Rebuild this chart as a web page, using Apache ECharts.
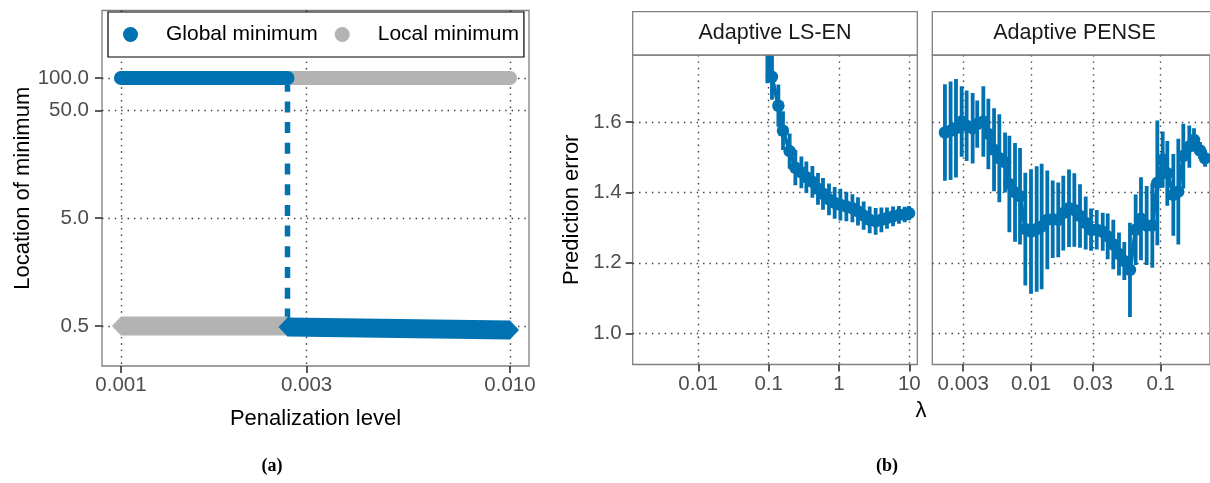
<!DOCTYPE html>
<html>
<head>
<meta charset="utf-8">
<script src="https://cdn.jsdelivr.net/npm/echarts@6/dist/echarts.min.js"></script>
<style>
  html, body { margin: 0; padding: 0; background: #fff; }
  #chart { width: 1210px; height: 483px; }
</style>
</head>
<body>
<div id="chart"></div>
<script>
// ---------- (a) location of the minimum along the penalization path ----------
const penaltyRange = [0.001, 0.01];
const switchPenalty = 0.00268;
const upperLocation = 100;
const globalLowerLocation = [0.49, 0.46];   // from the switch to the largest penalty
const localLowerLocation = [0.5, 0.5];      // from the smallest penalty to the switch
const penaltyTicks = [0.001, 0.003, 0.01];
const penaltyTickLabels = ['0.001', '0.003', '0.010'];
const locationTicks = [0.5, 5, 50, 100];
const locationTickLabels = ['0.5', '5.0', '50.0', '100.0'];

// ---------- (b) cross-validated prediction error ----------
const lsenLambda = [0.0959, 0.1115, 0.1375, 0.160, 0.199, 0.240, 0.292, 0.344, 0.419, 0.503,
  0.593, 0.721, 0.869, 1.047, 1.274, 1.551, 1.863, 2.244, 2.733, 3.326, 4.008, 4.815, 5.864,
  7.129, 8.593, 9.89];
const lsenError = [1.81, 1.728, 1.646, 1.575, 1.517, 1.47, 1.457, 1.443, 1.43, 1.41,
  1.396, 1.38, 1.37, 1.365, 1.36, 1.355, 1.346, 1.334, 1.322, 1.318, 1.322, 1.327, 1.332,
  1.336, 1.337, 1.341];
const lsenSe = [0.10, 0.065, 0.06, 0.055, 0.05, 0.05, 0.045, 0.045, 0.045, 0.045,
  0.045, 0.045, 0.045, 0.045, 0.042, 0.04, 0.04, 0.04, 0.038, 0.038, 0.035, 0.03, 0.028,
  0.025, 0.022, 0.02];

const penseLambda = [0.00217, 0.00240, 0.00264, 0.00292, 0.00319, 0.00355, 0.00385, 0.00429,
  0.00469, 0.00519, 0.00570, 0.00631, 0.00681, 0.00753, 0.00823, 0.00904, 0.0100, 0.01106,
  0.01208, 0.01336, 0.01470, 0.01622, 0.01774, 0.01963, 0.02158, 0.02387, 0.02642, 0.02904,
  0.03212, 0.03573, 0.03902, 0.04311, 0.04769, 0.05239, 0.05794, 0.06410, 0.07047, 0.07795,
  0.08616, 0.09418, 0.1036, 0.1124, 0.1251, 0.1367, 0.1494, 0.1662, 0.1806, 0.2009, 0.2197];
const penseError = [1.570, 1.575, 1.582, 1.601, 1.589, 1.582, 1.594, 1.601, 1.566, 1.521,
  1.497, 1.485, 1.424, 1.400, 1.389, 1.296, 1.289, 1.296, 1.303, 1.322, 1.324, 1.322, 1.341,
  1.355, 1.350, 1.333, 1.313, 1.294, 1.294, 1.288, 1.275, 1.252, 1.225, 1.205, 1.180, 1.294,
  1.325, 1.306, 1.306, 1.427, 1.493, 1.454, 1.393, 1.402, 1.503, 1.530, 1.549, 1.519, 1.497];
const penseSe = [0.137, 0.14, 0.14, 0.10, 0.10, 0.10, 0.067, 0.10, 0.10, 0.118, 0.125, 0.085,
  0.137, 0.14, 0.137, 0.16, 0.177, 0.178, 0.178, 0.14, 0.11, 0.106, 0.106, 0.11, 0.104, 0.09,
  0.075, 0.06, 0.056, 0.054, 0.065, 0.07, 0.061, 0.054, 0.134, 0.10, 0.118, 0.112, 0.12, 0.177,
  0.08, 0.092, 0.116, 0.15, 0.092, 0.06, 0.033, 0.024, 0.024];

const lsenTicks = [0.01, 0.1, 1, 10];
const lsenTickLabels = ['0.01', '0.1', '1', '10'];
const penseTicks = [0.003, 0.01, 0.03, 0.1];
const penseTickLabels = ['0.003', '0.01', '0.03', '0.1'];
const errorTicks = [1.0, 1.2, 1.4, 1.6];
const errorTickLabels = ['1.0', '1.2', '1.4', '1.6'];

// ---------- styling ----------
const BLUE = '#0072B2';
const GREY = '#b3b3b3';
const FONT = '"Liberation Sans", Arial, Helvetica, sans-serif';
const BORDER = '#7f7f7f';

function labelFor(ticks, labels) {
  return v => {
    const i = ticks.findIndex(t => Math.abs(Math.log10(t) - Math.log10(v)) < 1e-6);
    return i >= 0 ? labels[i] : '';
  };
}

function axisBase(ticks, labels, extra) {
  return Object.assign({
    axisLine: { show: false },
    axisTick: { show: true, length: 7, customValues: ticks.slice(),
      lineStyle: { color: '#333', width: 1.6 } },
    axisLabel: { show: true, customValues: ticks.slice(), formatter: labelFor(ticks, labels),
      fontFamily: FONT, fontSize: 20.5, color: '#4d4d4d', margin: 9 },
    splitLine: { show: true, lineStyle: { color: '#3a3a3a', width: 1.4, type: [1.4, 5] } }
  }, extra);
}

function errorBars(axisIdx, lam, err, se) {
  return {
    type: 'custom',
    xAxisIndex: axisIdx, yAxisIndex: axisIdx,
    clip: true, z: 2, silent: true,
    data: lam.map((l, i) => [l, err[i] - se[i], err[i] + se[i]]),
    encode: { x: 0, y: [1, 2] },
    renderItem: (params, api) => {
      const lo = api.coord([api.value(0), api.value(1)]);
      const hi = api.coord([api.value(0), api.value(2)]);
      return {
        type: 'line',
        shape: { x1: lo[0], y1: lo[1], x2: hi[0], y2: hi[1] },
        style: { stroke: BLUE, lineWidth: 3.8 }
      };
    }
  };
}

function curve(axisIdx, lam, err) {
  return {
    type: 'line',
    xAxisIndex: axisIdx, yAxisIndex: axisIdx,
    clip: true, z: 3, silent: true,
    data: lam.map((l, i) => [l, err[i]]),
    symbol: 'circle', symbolSize: 12.5, showSymbol: true,
    itemStyle: { color: BLUE },
    lineStyle: { color: BLUE, width: 3.8 }
  };
}

const diamondEnd = { symbol: 'diamond', symbolSize: [18, 19] };
const noEnd = { symbol: 'none' };

const chart = echarts.init(document.getElementById('chart'), null, { renderer: 'canvas' });

chart.setOption({
  animation: false,
  backgroundColor: '#fff',
  textStyle: { fontFamily: FONT },
  grid: [
    { left: 102, top: 10.5, width: 427, height: 355.5, show: true, borderColor: BORDER, borderWidth: 1.3, backgroundColor: 'transparent' },
    { left: 632.7, top: 55, width: 284.6, height: 309.5, show: true, borderColor: BORDER, borderWidth: 1.3, backgroundColor: 'transparent' },
    { left: 932.3, top: 55, width: 280, height: 309.5, show: true, borderColor: BORDER, borderWidth: 1.3, backgroundColor: 'transparent' }
  ],
  xAxis: [
    axisBase(penaltyTicks, penaltyTickLabels, {
      gridIndex: 0, type: 'log', logBase: 10, min: 0.000894, max: 0.01119,
      name: 'Penalization level', nameLocation: 'middle', nameGap: 42,
      nameTextStyle: { fontFamily: FONT, fontSize: 22, color: '#000' }
    }),
    axisBase(lsenTicks, lsenTickLabels, {
      gridIndex: 1, type: 'log', logBase: 10, min: 0.001168, max: 12.99
    }),
    axisBase(penseTicks, penseTickLabels, {
      gridIndex: 2, type: 'log', logBase: 10, min: 0.001734, max: 0.2399
    })
  ],
  yAxis: [
    axisBase(locationTicks, locationTickLabels, {
      gridIndex: 0, type: 'log', logBase: 10, min: 0.2129, max: 422.6,
      name: 'Location of minimum', nameLocation: 'middle', nameGap: 68,
      nameTextStyle: { fontFamily: FONT, fontSize: 22, color: '#000' },
      axisLabel: { show: true, customValues: locationTicks.slice(), formatter: labelFor(locationTicks, locationTickLabels),
        fontFamily: FONT, fontSize: 20.5, color: '#4d4d4d', margin: 13 }
    }),
    axisBase(errorTicks, errorTickLabels, {
      gridIndex: 1, type: 'value', min: 0.9114, max: 1.790,
      name: 'Prediction error', nameLocation: 'middle', nameGap: 50,
      nameTextStyle: { fontFamily: FONT, fontSize: 22, color: '#000' },
      axisLabel: { show: true, customValues: errorTicks.slice(),
        formatter: v => errorTickLabels[errorTicks.findIndex(t => Math.abs(t - v) < 1e-6)] || '',
        fontFamily: FONT, fontSize: 20.5, color: '#4d4d4d', margin: 11 }
    }),
    axisBase(errorTicks, errorTickLabels, {
      gridIndex: 2, type: 'value', min: 0.9114, max: 1.790,
      axisTick: { show: false, customValues: errorTicks.slice() },
      axisLabel: { show: false, customValues: errorTicks.slice() }
    })
  ],
  legend: {
    data: [{ name: 'Global minimum' }, { name: 'Local minimum' }],
    left: 108, top: 12,
    orient: 'horizontal',
    padding: [12, 5, 12, 15],
    itemWidth: 15, itemHeight: 15, itemGap: 17,
    icon: 'circle',
    selectedMode: false,
    backgroundColor: '#fff',
    borderColor: '#000', borderWidth: 1.2,
    textStyle: { fontFamily: FONT, fontSize: 21, color: '#000', padding: [0, 0, 0, 23] }
  },
  series: [
    // switch between the two minima
    {
      type: 'line', xAxisIndex: 0, yAxisIndex: 0, z: 1, silent: true,
      data: [[switchPenalty, upperLocation], [switchPenalty, globalLowerLocation[0]]],
      symbol: 'none',
      lineStyle: { color: BLUE, width: 5.5, type: [11, 9.7], dashOffset: 18 }
    },
    {
      name: 'Local minimum', type: 'line', xAxisIndex: 0, yAxisIndex: 0, z: 2, silent: true,
      data: [[switchPenalty, upperLocation], [penaltyRange[1], upperLocation]],
      symbol: 'none', itemStyle: { color: GREY },
      lineStyle: { color: GREY, width: 14, cap: 'round' }
    },
    {
      name: 'Local minimum', type: 'line', xAxisIndex: 0, yAxisIndex: 0, z: 2, silent: true,
      data: [Object.assign({ value: [penaltyRange[0], localLowerLocation[0]] }, diamondEnd),
             Object.assign({ value: [switchPenalty, localLowerLocation[1]] }, noEnd)],
      symbol: 'diamond', symbolSize: [18, 19], itemStyle: { color: GREY },
      lineStyle: { color: GREY, width: 19, cap: 'butt' }
    },
    {
      name: 'Global minimum', type: 'line', xAxisIndex: 0, yAxisIndex: 0, z: 3, silent: true,
      data: [[penaltyRange[0], upperLocation], [switchPenalty, upperLocation]],
      symbol: 'none', itemStyle: { color: BLUE },
      lineStyle: { color: BLUE, width: 14, cap: 'round' }
    },
    {
      name: 'Global minimum', type: 'line', xAxisIndex: 0, yAxisIndex: 0, z: 3, silent: true,
      data: [Object.assign({ value: [switchPenalty, globalLowerLocation[0]] }, diamondEnd),
             Object.assign({ value: [penaltyRange[1], globalLowerLocation[1]] }, diamondEnd)],
      symbol: 'diamond', symbolSize: [18, 19], itemStyle: { color: BLUE },
      lineStyle: { color: BLUE, width: 19, cap: 'butt' }
    },
    errorBars(1, lsenLambda, lsenError, lsenSe),
    curve(1, lsenLambda, lsenError),
    errorBars(2, penseLambda, penseError, penseSe),
    curve(2, penseLambda, penseError)
  ],
  graphic: [
    { type: 'rect', z: 10, shape: { x: 632.7, y: 11.7, width: 284.6, height: 43.3 },
      style: { fill: '#fff', stroke: BORDER, lineWidth: 1.3 } },
    { type: 'text', z: 11, x: 775, y: 33.5,
      style: { text: 'Adaptive LS-EN', font: '21.5px ' + FONT, fill: '#1a1a1a',
        align: 'center', verticalAlign: 'middle', textAlign: 'center', textVerticalAlign: 'middle' } },
    { type: 'rect', z: 10, shape: { x: 932.3, y: 11.7, width: 290, height: 43.3 },
      style: { fill: '#fff', stroke: BORDER, lineWidth: 1.3 } },
    { type: 'text', z: 11, x: 1074.5, y: 33.5,
      style: { text: 'Adaptive PENSE', font: '21.5px ' + FONT, fill: '#1a1a1a',
        align: 'center', verticalAlign: 'middle', textAlign: 'center', textVerticalAlign: 'middle' } },
    { type: 'text', z: 11, x: 921, y: 411,
      style: { text: 'λ', font: '22px ' + FONT, fill: '#000',
        align: 'center', verticalAlign: 'middle', textAlign: 'center', textVerticalAlign: 'middle' } },
    { type: 'text', z: 11, x: 272, y: 466,
      style: { text: '(a)', font: 'bold 18px "Liberation Serif", "DejaVu Serif", serif', fill: '#000',
        align: 'center', verticalAlign: 'middle', textAlign: 'center', textVerticalAlign: 'middle' } },
    { type: 'text', z: 11, x: 887, y: 466,
      style: { text: '(b)', font: 'bold 18px "Liberation Serif", "DejaVu Serif", serif', fill: '#000',
        align: 'center', verticalAlign: 'middle', textAlign: 'center', textVerticalAlign: 'middle' } }
  ]
});
</script>
</body>
</html>
